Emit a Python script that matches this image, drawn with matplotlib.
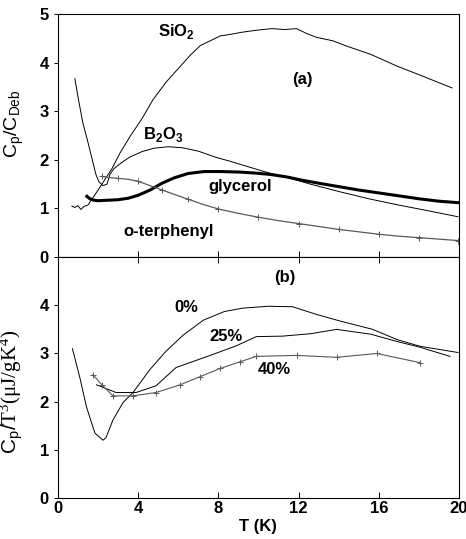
import matplotlib
matplotlib.use("Agg")
import matplotlib.pyplot as plt

############################### donnees panneau (a)
sio2_T = [0.7, 0.85, 1.0, 1.15, 1.3, 1.5, 1.8, 2.2, 2.7, 3.1, 3.6, 4.2, 4.75, 5.4, 6.1, 6.6,
          7.1, 7.6, 8.1, 8.6, 9.1, 9.6, 10.2, 10.7, 11.3, 11.9, 12.4, 12.9, 13.7, 14.4, 15.6,
          16.9, 18.2, 19.65]
sio2_C = [1.05, 1.02, 1.06, 0.98, 1.04, 1.07, 1.25, 1.5, 1.82, 2.14, 2.48, 2.85, 3.24, 3.6,
          3.92, 4.15, 4.35, 4.45, 4.55, 4.58, 4.62, 4.65, 4.68, 4.7, 4.68, 4.7, 4.6, 4.52,
          4.45, 4.34, 4.17, 3.93, 3.72, 3.48]

b2o3_T = [0.85, 1.05, 1.25, 1.45, 1.6, 1.75, 1.9, 2.05, 2.25, 2.45, 2.6, 2.8, 3.2, 3.6, 4.2,
          4.8, 5.5, 6.2, 7.0, 7.9, 8.6, 9.4, 10.2, 11.0, 11.6, 12.6, 14.0, 15.5, 17.0, 18.5,
          19.95]
b2o3_C = [3.67, 3.2, 2.76, 2.45, 2.2, 1.95, 1.7, 1.55, 1.47, 1.5, 1.7, 1.82, 1.95, 2.06, 2.17,
          2.24, 2.27, 2.25, 2.18, 2.05, 1.97, 1.87, 1.77, 1.68, 1.62, 1.5, 1.35, 1.2, 1.07,
          0.95, 0.83]

glyc_T = [1.45, 1.6, 1.8, 2.0, 2.5, 3.0, 3.5, 4.0, 4.6, 5.2, 5.8, 6.5, 7.3, 8.1, 9.0, 9.8,
          10.6, 11.4, 12.2, 13.0, 14.0, 15.0, 16.0, 17.0, 18.0, 19.0, 19.95]
glyc_C = [1.25, 1.2, 1.17, 1.16, 1.17, 1.18, 1.21, 1.27, 1.38, 1.52, 1.63, 1.72, 1.76, 1.76,
          1.75, 1.73, 1.7, 1.65, 1.58, 1.52, 1.45, 1.38, 1.32, 1.26, 1.2, 1.15, 1.12]

oter_T = [2.2, 2.5, 3.0, 3.5, 4.0, 4.6, 5.2, 5.8, 6.5, 7.2, 8.0, 9.0, 10.0, 11.0, 12.0, 13.0,
          14.0, 15.0, 16.0, 17.0, 18.0, 19.0, 19.95]
oter_C = [1.66, 1.64, 1.62, 1.6, 1.56, 1.47, 1.38, 1.29, 1.19, 1.09, 0.99, 0.9, 0.82, 0.75,
          0.69, 0.63, 0.57, 0.52, 0.47, 0.43, 0.4, 0.37, 0.34]

############################### donnees panneau (b)
p0_T = [0.73, 1.1, 1.43, 1.85, 2.25, 2.4, 2.75, 3.25, 3.75, 4.6, 5.4, 6.25, 7.25, 8.3, 9.2,
        10.5, 11.7, 12.9, 14.1, 15.7, 16.9, 18.05, 19.95]
p0_C = [3.1, 2.5, 1.89, 1.35, 1.2, 1.25, 1.62, 1.98, 2.19, 2.67, 3.05, 3.38, 3.69, 3.87, 3.94,
        3.98, 3.97, 3.81, 3.67, 3.5, 3.29, 3.15, 3.02]

p25_T = [1.93, 2.9, 3.9, 4.9, 5.9, 7.6, 8.9, 9.9, 11.2, 12.6, 13.9, 15.6, 16.9, 18.05, 19.55]
p25_C = [2.35, 2.19, 2.19, 2.33, 2.71, 2.96, 3.16, 3.35, 3.36, 3.41, 3.5, 3.4, 3.25, 3.13, 2.94]

p40_T = [1.75, 2.2, 2.75, 3.75, 4.9, 6.1, 7.1, 8.1, 9.1, 9.9, 11.9, 13.9, 15.9, 18.05]
p40_C = [2.56, 2.35, 2.12, 2.12, 2.19, 2.35, 2.52, 2.69, 2.83, 2.94, 2.96, 2.92, 3.0, 2.81]

x_ticks = [0, 4, 8, 12, 16, 20]

plt.rcParams['font.family'] = ['Liberation Sans', 'DejaVu Sans']
# mathtext: texte droit en sans, \mathtt sert pour la partie serif du label (b)
plt.rcParams['mathtext.fontset'] = 'custom'
plt.rcParams['mathtext.rm'] = 'Liberation Sans'
plt.rcParams['mathtext.bf'] = 'Liberation Sans:bold'
plt.rcParams['mathtext.tt'] = 'Liberation Serif'

fig = plt.figure(figsize=(4.66, 5.39), dpi=100)
axa = fig.add_axes([0.124, 0.523, 0.861, 0.451])
axb = fig.add_axes([0.124, 0.076, 0.861, 0.447])

############################### panneau (a)
axa.plot(sio2_T, sio2_C, color='k', lw=0.7)
axa.plot(b2o3_T, b2o3_C, color='k', lw=0.7)
axa.plot(glyc_T, glyc_C, color='k', lw=2.2)
axa.plot(oter_T, oter_C, color='0.35', lw=0.9, marker='+', ms=4, mew=0.7, markevery=2)

axa.text(5.9, 4.64, 'SiO$_\\mathbf{2}$', fontsize=12, fontweight='bold', ha='center', va='center')
axa.text(5.25, 2.52, 'B$_\\mathbf{2}$O$_\\mathbf{3}$', fontsize=12, fontweight='bold', ha='center', va='center')
axa.text(9.1, 1.46, 'glycerol', fontsize=12, fontweight='bold', ha='center', va='center')
axa.text(5.5, 0.52, 'o-terphenyl', fontsize=12, fontweight='bold', ha='center', va='center')
axa.text(12.2, 3.65, '(a)', fontsize=12, fontweight='bold', ha='center', va='center')

axa.set_xlim(0, 20)
axa.set_ylim(0, 5)
axa.set_xticks(x_ticks)
axa.set_xticklabels([])
axa.set_yticks([0, 1, 2, 3, 4, 5])
axa.set_ylabel('C$_\\mathrm{p}$/C$_\\mathrm{Deb}$', fontsize=14)
axa.yaxis.set_label_coords(-0.078, 0.55)
axa.tick_params(axis='x', direction='in', length=4, width=0.7)
axa.tick_params(axis='y', direction='out', length=3, width=0.7, labelsize=12)

############################### panneau (b)
axb.plot(p0_T, p0_C, color='k', lw=0.7)
axb.plot(p25_T, p25_C, color='k', lw=0.7)
axb.plot(p40_T, p40_C, color='0.35', lw=0.8, marker='+', ms=4, mew=0.7)

axb.text(6.4, 3.96, '0%', fontsize=12, fontweight='bold', ha='center', va='center')
axb.text(8.4, 3.35, '25%', fontsize=12, fontweight='bold', ha='center', va='center')
axb.text(10.8, 2.67, '40%', fontsize=12, fontweight='bold', ha='center', va='center')
axb.text(11.3, 4.58, '(b)', fontsize=12, fontweight='bold', ha='center', va='center')

axb.set_xlim(0, 20)
axb.set_ylim(0, 5)
axb.set_xticks(x_ticks)
axb.set_yticks([0, 1, 2, 3, 4])
axb.set_xlabel('T (K)', fontsize=12, fontweight='bold', labelpad=2)
axb.set_ylabel('C$_\\mathrm{p}$/$\\mathtt{T^3(\\mu J/gK^4)}$', fontsize=15)
axb.yaxis.set_label_coords(-0.078, 0.44)
axb.tick_params(axis='x', direction='in', length=4, width=0.7, top=True, labelsize=12, pad=2)
axb.tick_params(axis='y', direction='out', length=3, width=0.7, labelsize=12)

for ax in (axa, axb):
    for s in ax.spines.values():
        s.set_linewidth(0.8)
    for lab in ax.get_xticklabels() + ax.get_yticklabels():
        lab.set_fontweight('bold')

fig.savefig('out.png', dpi=100)
